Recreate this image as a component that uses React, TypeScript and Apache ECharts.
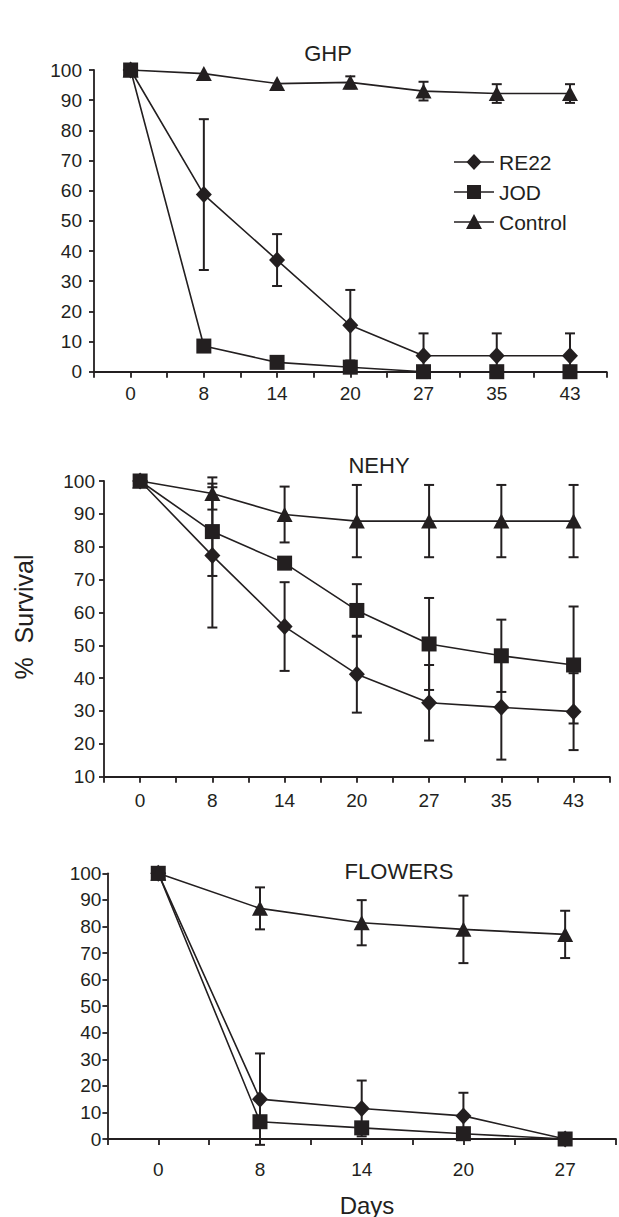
import React, { useEffect, useRef } from "react";
import * as echarts from "echarts";

const INK = "#231f20";
const FONT = "'Liberation Sans', Arial, Helvetica, sans-serif";

// ---- Data ----
const daysLong = ["0", "8", "14", "20", "27", "35", "43"];
const daysShort = ["0", "8", "14", "20", "27"];

// GHP
const ghpRE22 = [100, 58.7, 37, 15.4, 5.3, 5.3, 5.3];
const ghpRE22Err = [0, 25, 8.6, 11.7, 7.4, 7.4, 7.4];
const ghpJOD = [100, 8.5, 3.1, 1.5, 0, 0, 0];
const ghpJODErr = [0, 0, 0, 0, 0, 0, 0];
const ghpControl = [100, 98.8, 95.5, 95.9, 93.0, 92.2, 92.2];
const ghpControlErr = [0, 0, 0, 2.0, 3.1, 3.1, 3.1];

// NEHY
const nehyRE22 = [100, 77.3, 55.7, 41.2, 32.5, 31.1, 29.8];
const nehyRE22Err = [0, 21.9, 13.5, 11.7, 11.5, 15.9, 11.7];
const nehyJOD = [100, 84.6, 75, 60.6, 50.4, 46.8, 44];
const nehyJODErr = [0, 13.5, 0, 8, 14, 11, 17.8];
const nehyControl = [100, 96.2, 89.8, 87.8, 87.8, 87.8, 87.8];
const nehyControlErr = [0, 4.9, 8.5, 11, 11, 11, 11];

// FLOWERS
const flRE22 = [100, 15, 11.5, 8.7, 0];
const flRE22Err = [0, 17.2, 10.5, 8.7, 0];
const flJOD = [100, 6.5, 4.2, 2, 0];
const flJODErr = [0, 0, 0, 0, 0];
const flControl = [100, 86.8, 81.4, 78.9, 77];
const flControlErr = [0, 7.9, 8.5, 12.7, 8.9];

const seriesNames = ["RE22", "JOD", "Control"];
const yTicksFull = [0, 100];
const yTicksNehy = [10, 100];

function toPoints(vals: number[]) {
  return vals.map((v, i) => [i, v]);
}
function toErr(vals: number[], errs: number[]) {
  const out: number[][] = [];
  vals.forEach((v, i) => {
    if (errs[i] > 0) out.push([i, v - errs[i], v + errs[i]]);
  });
  return out;
}

const symbolFor: Record<string, any> = {
  RE22: { symbol: "diamond", size: [16, 17] },
  JOD: { symbol: "rect", size: [15, 15] },
  Control: { symbol: "triangle", size: [16, 15] },
};

function lineSeries(name: string, vals: number[], idx: number) {
  const s = symbolFor[name];
  return {
    type: "line",
    name,
    xAxisIndex: idx,
    yAxisIndex: idx,
    data: toPoints(vals),
    symbol: s.symbol,
    symbolSize: s.size,
    showAllSymbol: true,
    lineStyle: { color: INK, width: 1.6 },
    itemStyle: { color: INK },
    z: 3,
  };
}

function errSeries(vals: number[], errs: number[], idx: number) {
  return {
    type: "custom",
    xAxisIndex: idx,
    yAxisIndex: idx,
    clip: false,
    z: 2,
    data: toErr(vals, errs),
    renderItem: (params: any, api: any) => {
      const x = api.value(0);
      const lo = api.coord([x, api.value(1)]);
      const hi = api.coord([x, api.value(2)]);
      const hw = 5;
      const style = { stroke: INK, lineWidth: 2 };
      return {
        type: "group",
        children: [
          { type: "line", shape: { x1: hi[0], y1: hi[1], x2: lo[0], y2: lo[1] }, style },
          { type: "line", shape: { x1: hi[0] - hw, y1: hi[1], x2: hi[0] + hw, y2: hi[1] }, style },
          { type: "line", shape: { x1: lo[0] - hw, y1: lo[1], x2: lo[0] + hw, y2: lo[1] }, style },
        ],
      };
    },
  };
}

function xAxisFor(idx: number, labels: string[], margin: number) {
  return {
    type: "value",
    gridIndex: idx,
    min: -0.5,
    max: labels.length - 0.5,
    interval: 0.5,
    axisLine: { show: true, onZero: false, lineStyle: { color: INK, width: 1.8 } },
    axisTick: { show: true, inside: false, length: 6, lineStyle: { color: INK, width: 1.8 } },
    splitLine: { show: false },
    axisLabel: {
      show: true,
      margin,
      color: INK,
      fontFamily: FONT,
      fontSize: 19,
      showMinLabel: true,
      showMaxLabel: true,
      formatter: (v: number) => {
        const r = Math.round(v);
        return Math.abs(v - r) < 1e-6 ? labels[r] ?? "" : "";
      },
    },
  };
}

function yAxisFor(idx: number, range: number[], margin: number) {
  return {
    type: "value",
    gridIndex: idx,
    min: range[0],
    max: range[1],
    interval: 10,
    axisLine: { show: true, onZero: false, lineStyle: { color: INK, width: 1.8 } },
    axisTick: { show: true, inside: false, length: 5, lineStyle: { color: INK, width: 1.8 } },
    splitLine: { show: false },
    axisLabel: { margin, color: INK, fontFamily: FONT, fontSize: 19 },
  };
}

function legendGraphic() {
  const rows = [
    { name: "RE22", y: 162 },
    { name: "JOD", y: 192 },
    { name: "Control", y: 222 },
  ];
  const cx = 474;
  const children: any[] = [];
  rows.forEach((r) => {
    children.push({
      type: "line",
      shape: { x1: 454, y1: r.y, x2: 494, y2: r.y },
      style: { stroke: INK, lineWidth: 1.6 },
    });
    if (r.name === "RE22") {
      children.push({
        type: "polygon",
        shape: { points: [[cx, r.y - 8], [cx + 7.5, r.y], [cx, r.y + 8], [cx - 7.5, r.y]] },
        style: { fill: INK },
      });
    } else if (r.name === "JOD") {
      children.push({ type: "rect", shape: { x: cx - 7, y: r.y - 7, width: 14, height: 14 }, style: { fill: INK } });
    } else {
      children.push({
        type: "polygon",
        shape: { points: [[cx, r.y - 8], [cx + 8, r.y + 7], [cx - 8, r.y + 7]] },
        style: { fill: INK },
      });
    }
    children.push({
      type: "text",
      x: 499,
      y: r.y,
      style: { text: r.name, fill: INK, font: `21px ${FONT}`, align: "left", verticalAlign: "middle" },
    });
  });
  return children;
}

function textG(text: string, x: number, y: number, size: number, rotation = 0) {
  return {
    type: "text",
    x,
    y,
    rotation,
    style: { text, fill: INK, font: `${size}px ${FONT}`, align: "center", verticalAlign: "middle" },
  };
}

export default function App() {
  const ref = useRef<HTMLDivElement>(null);
  useEffect(() => {
    if (!ref.current) return;
    const chart = echarts.init(ref.current, undefined, { renderer: "svg" });
    const option: any = {
      animation: false,
      backgroundColor: "#ffffff",
      grid: [
        { left: 94, top: 70, width: 512.6, height: 301.7 },
        { left: 104, top: 481, width: 505.7, height: 295.7 },
        { left: 107.4, top: 873.3, width: 511, height: 265.7 },
      ],
      xAxis: [xAxisFor(0, daysLong, 12), xAxisFor(1, daysLong, 14), xAxisFor(2, daysShort, 21)],
      yAxis: [yAxisFor(0, yTicksFull, 12), yAxisFor(1, yTicksNehy, 9), yAxisFor(2, yTicksFull, 6)],
      series: [
        errSeries(ghpRE22, ghpRE22Err, 0),
        errSeries(ghpJOD, ghpJODErr, 0),
        errSeries(ghpControl, ghpControlErr, 0),
        lineSeries(seriesNames[0], ghpRE22, 0),
        lineSeries(seriesNames[1], ghpJOD, 0),
        lineSeries(seriesNames[2], ghpControl, 0),
        errSeries(nehyRE22, nehyRE22Err, 1),
        errSeries(nehyJOD, nehyJODErr, 1),
        errSeries(nehyControl, nehyControlErr, 1),
        lineSeries(seriesNames[0], nehyRE22, 1),
        lineSeries(seriesNames[1], nehyJOD, 1),
        lineSeries(seriesNames[2], nehyControl, 1),
        errSeries(flRE22, flRE22Err, 2),
        errSeries(flJOD, flJODErr, 2),
        errSeries(flControl, flControlErr, 2),
        lineSeries(seriesNames[0], flRE22, 2),
        lineSeries(seriesNames[1], flJOD, 2),
        lineSeries(seriesNames[2], flControl, 2),
      ],
      graphic: [
        textG("GHP", 328, 53, 22),
        textG("NEHY", 379, 465, 22),
        textG("FLOWERS", 399, 871, 22),
        textG("Days", 367, 1205, 24),
        textG("%  Survival", 24, 617, 25, Math.PI / 2),
        ...legendGraphic(),
      ],
    };
    chart.setOption(option);
    return () => chart.dispose();
  }, []);
  return (
    <div
      ref={ref}
      style={{ position: "absolute", left: 0, top: 0, width: 619, height: 1217 }}
    />
  );
}
